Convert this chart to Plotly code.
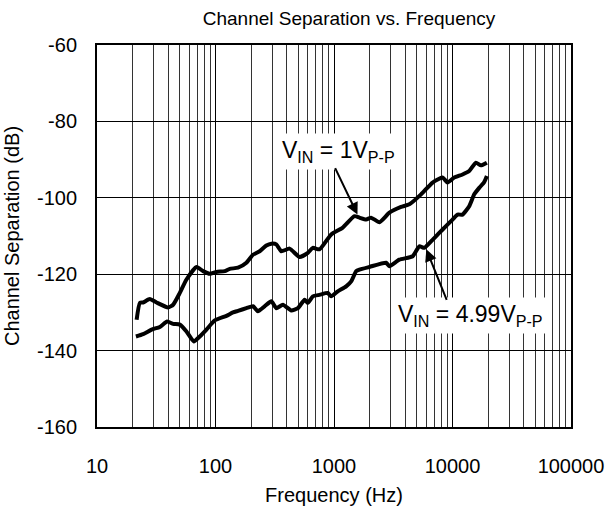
import plotly.graph_objects as go

# Frequency points (Hz) and channel separation (dB) for each input level
freq_1v = [21.6, 23.0, 24.5, 27.9, 31.8, 39.8, 43.9, 50.0, 56.9, 69.1, 78.6, 89.5,
           101.9, 119.7, 131.8, 154.8, 182.3, 207.2, 235.9, 268.6, 296, 326, 359,
           422, 512, 602, 663, 755, 947, 1186, 1488, 1639, 1867, 2057, 2417, 2934,
           3680, 4323, 5425, 6792, 8246, 9085, 10340, 12150, 13840, 15760, 17360, 19500]
sep_1v = [-131.9, -127.5, -127.4, -126.5, -127.4, -128.7, -128.0, -124.9, -121.4, -118.1,
          -119.2, -119.9, -119.4, -119.2, -118.6, -118.3, -117.0, -114.9, -114.0, -112.5,
          -112.0, -112.2, -114.0, -113.3, -115.5, -114.4, -113.1, -113.5, -109.6, -107.8,
          -104.8, -105.2, -105.7, -105.2, -106.4, -103.9, -102.4, -101.7, -99.1, -96.0,
          -94.7, -96.0, -94.7, -93.9, -93.0, -90.8, -91.5, -90.8]

freq_499v = [21.3, 24.5, 28.9, 33.9, 39.1, 43.9, 50.0, 56.9, 65.6, 73.7, 83.9, 98.6,
             123.7, 140.5, 154.8, 182.3, 207.2, 228.2, 259.8, 296, 326, 370.5, 436,
             495.6, 564.5, 602, 663, 755, 886.7, 947, 1076, 1267, 1396, 1538, 1639,
             1991, 2752, 2934, 3560, 4610, 5248, 5783, 6792, 7734, 8808, 10010, 11030,
             12150, 13840, 15250, 16800, 18510, 19500]
sep_499v = [-136.3, -135.7, -134.5, -133.8, -132.4, -133.0, -133.2, -135.0, -137.6, -136.3,
            -134.5, -132.1, -130.9, -130.0, -129.6, -128.9, -128.4, -129.7, -128.4, -127.1,
            -128.9, -128.0, -129.5, -128.9, -126.7, -127.5, -125.8, -125.4, -124.9, -125.8,
            -124.5, -123.2, -121.9, -119.2, -118.8, -118.1, -117.0, -117.9, -116.2, -115.3,
            -112.7, -113.1, -111.0, -109.2, -107.4, -105.7, -104.4, -104.4, -102.2, -99.1,
            -97.4, -95.9, -94.3]

x_ticks = [10, 100, 1000, 10000, 100000]
x_tick_text = ["10", "100", "1000", "10000", "100000"]
x_minor = [m * d for d in (10, 100, 1000, 10000) for m in range(2, 10)]
y_ticks = [-60, -80, -100, -120, -140, -160]
y_tick_text = ["-60", "-80", "-100", "-120", "-140", "-160"]

FONT = "Liberation Sans, Arial, sans-serif"

fig = go.Figure()
for fx, sy in ((freq_1v, sep_1v), (freq_499v, sep_499v)):
    fig.add_trace(go.Scatter(x=fx, y=sy, mode="lines",
                             line=dict(color="black", width=4, shape="spline", smoothing=0.5),
                             showlegend=False, hoverinfo="skip"))

fig.update_layout(
    width=608, height=510,
    margin=dict(l=97, r=37, t=45, b=83, autoexpand=False),
    paper_bgcolor="white", plot_bgcolor="white",
    font=dict(family=FONT, size=20, color="black"),
    title=dict(text="Channel Separation vs. Frequency", x=0.574, xanchor="center",
               y=0.965, yanchor="middle", font=dict(size=19)),
    xaxis=dict(type="log", range=[1, 5], tickvals=x_ticks, ticktext=x_tick_text,
               showgrid=True, gridcolor="black", gridwidth=1,
               minor=dict(tickvals=x_minor, showgrid=True, gridcolor="#333", gridwidth=1, ticks=""),
               showline=True, linecolor="black", linewidth=2, mirror=True,
               ticks="", ticklabelstandoff=20, zeroline=False, automargin=False,
               title=dict(text="Frequency (Hz)", standoff=12, font=dict(size=20))),
    yaxis=dict(range=[-160, -60], tickvals=y_ticks, ticktext=y_tick_text,
               showgrid=True, gridcolor="black", gridwidth=1,
               showline=True, linecolor="black", linewidth=2, mirror=True,
               ticks="", ticklabelstandoff=14, zeroline=False, automargin=False,
               title=dict(text="Channel Separation (dB)", standoff=12, font=dict(size=20))),
)

# Curve labels with white backing boxes
fig.add_annotation(x=3.038, y=-87.8, xref="x", yref="y",
                   text="V<sub>IN</sub> = 1V<sub>P-P</sub>", showarrow=False,
                   bgcolor="white", borderpad=3, font=dict(size=23))
fig.add_annotation(x=4.149, y=-130.7, xref="x", yref="y",
                   text="V<sub>IN</sub> = 4.99V<sub>P-P</sub>", showarrow=False,
                   bgcolor="white", borderpad=3, font=dict(size=23))

# Arrows pointing at each curve
fig.add_annotation(x=3.198, y=-104.4, xref="x", yref="y", text="",
                   showarrow=True, ax=-23, ay=-48, arrowhead=2, arrowsize=1.2,
                   arrowwidth=2, arrowcolor="black", standoff=0)
fig.add_annotation(x=3.779, y=-113.5, xref="x", yref="y", text="",
                   showarrow=True, ax=21, ay=52, arrowhead=2, arrowsize=1.2,
                   arrowwidth=2, arrowcolor="black", standoff=0)

fig.write_html("out.html")
